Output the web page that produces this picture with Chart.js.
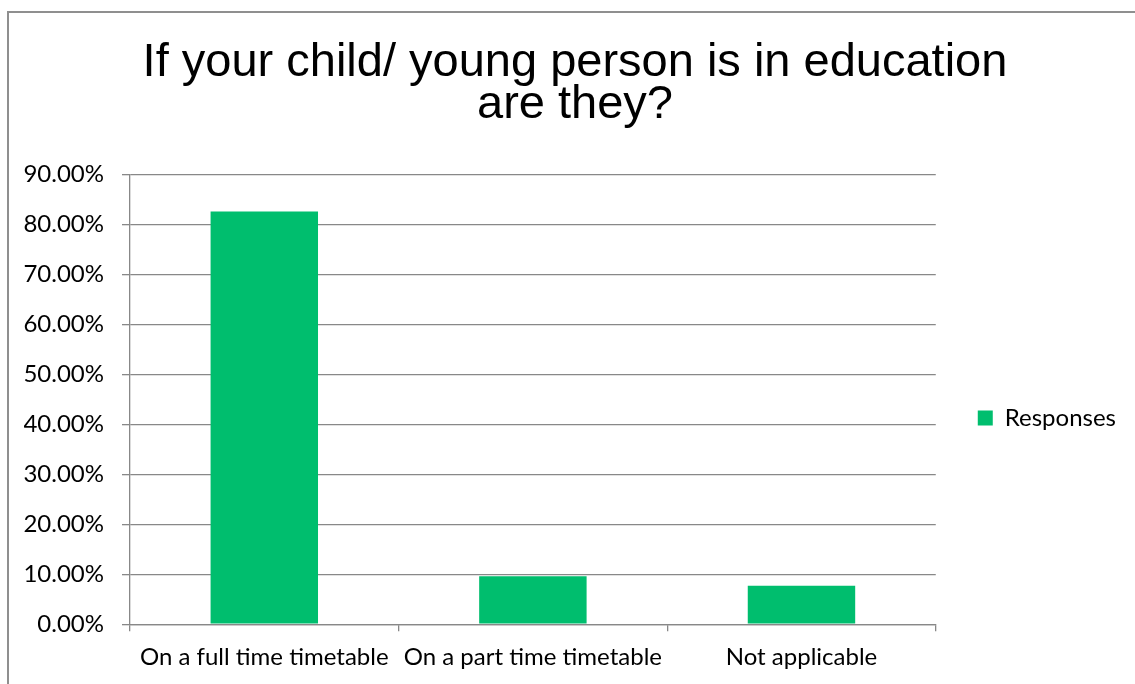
<!DOCTYPE html>
<html>
<head>
<meta charset="utf-8">
<script src="https://cdn.jsdelivr.net/npm/chart.js@4.4.1/dist/chart.umd.min.js"></script>
<style>
  html, body { margin: 0; padding: 0; background: #fff; overflow: hidden; }
  #frame {
    position: absolute; left: 7px; top: 11px; width: 1200px; height: 700px;
    border-left: 2px solid #8f8f8f; border-top: 2px solid #8f8f8f;
  }
  #wrap { position: absolute; left: 0; top: 0; width: 1135px; height: 684px; }
</style>
</head>
<body>
<div id="frame"></div>
<div id="wrap"><canvas id="eduChart"></canvas></div>
<script>
// survey answers (percent of responses)
const categories = ["On a full time timetable", "On a part time timetable", "Not applicable"];
const responses = [82.6, 9.6, 7.7];
const seriesName = "Responses";
const titleLines = ["If your child/ young person is in education", "are they?"];

// y axis ticks 0% .. 90%
const yMin = 0;
const yMax = 90;
const yStep = 10;

const axisGrey = "#888888";
const barGreen = "#00BE6E";
const labelFont = { family: "Lato, 'Open Sans', sans-serif", size: 24 };
const padLeft = 24;

const ctx = document.getElementById("eduChart");

new Chart(ctx, {
  type: "bar",
  data: {
    labels: categories,
    datasets: [{
      label: seriesName,
      data: responses,
      backgroundColor: barGreen,
      borderWidth: 0,
      categoryPercentage: 1,
      barPercentage: 0.4
    }]
  },
  options: {
    responsive: true,
    maintainAspectRatio: false,
    animation: false,
    layout: { padding: { left: padLeft, right: 9, top: 0, bottom: 0 } },
    plugins: {
      title: {
        display: true,
        text: titleLines,
        color: "#000",
        font: { family: "'Liberation Sans', Arial, sans-serif", size: 47, weight: "normal", lineHeight: 0.9 },
        padding: { top: 42, bottom: 48 }
      },
      legend: {
        display: true,
        position: "right",
        fullSize: false,
        // empty legend title only pushes the entry a little below the middle
        title: { display: true, text: " ", font: { size: 12 }, padding: { top: 22.6, bottom: 0 } },
        labels: {
          color: "#000",
          font: labelFont,
          boxWidth: 15,
          boxHeight: 15,
          padding: 42
        }
      },
      tooltip: { enabled: false }
    },
    scales: {
      x: {
        grid: {
          display: true,
          offset: true,
          drawOnChartArea: false,
          drawTicks: true,
          tickLength: 7,
          color: axisGrey,
          lineWidth: 1.3
        },
        border: { display: true, color: axisGrey, width: 1.3 },
        ticks: { color: "#000", font: labelFont, padding: 12, maxRotation: 0, autoSkip: false }
      },
      y: {
        min: yMin,
        max: yMax,
        ticks: {
          stepSize: yStep,
          color: "#000",
          font: labelFont,
          padding: 18,
          callback: function(value) { return value.toFixed(2) + "%"; }
        },
        grid: { color: axisGrey, lineWidth: 1.3, tickLength: 8 },
        border: { display: true, color: axisGrey, width: 1.3 },
        afterFit: function(scale) { scale.width = 130 - padLeft; }
      }
    }
  }
});
</script>
</body>
</html>
